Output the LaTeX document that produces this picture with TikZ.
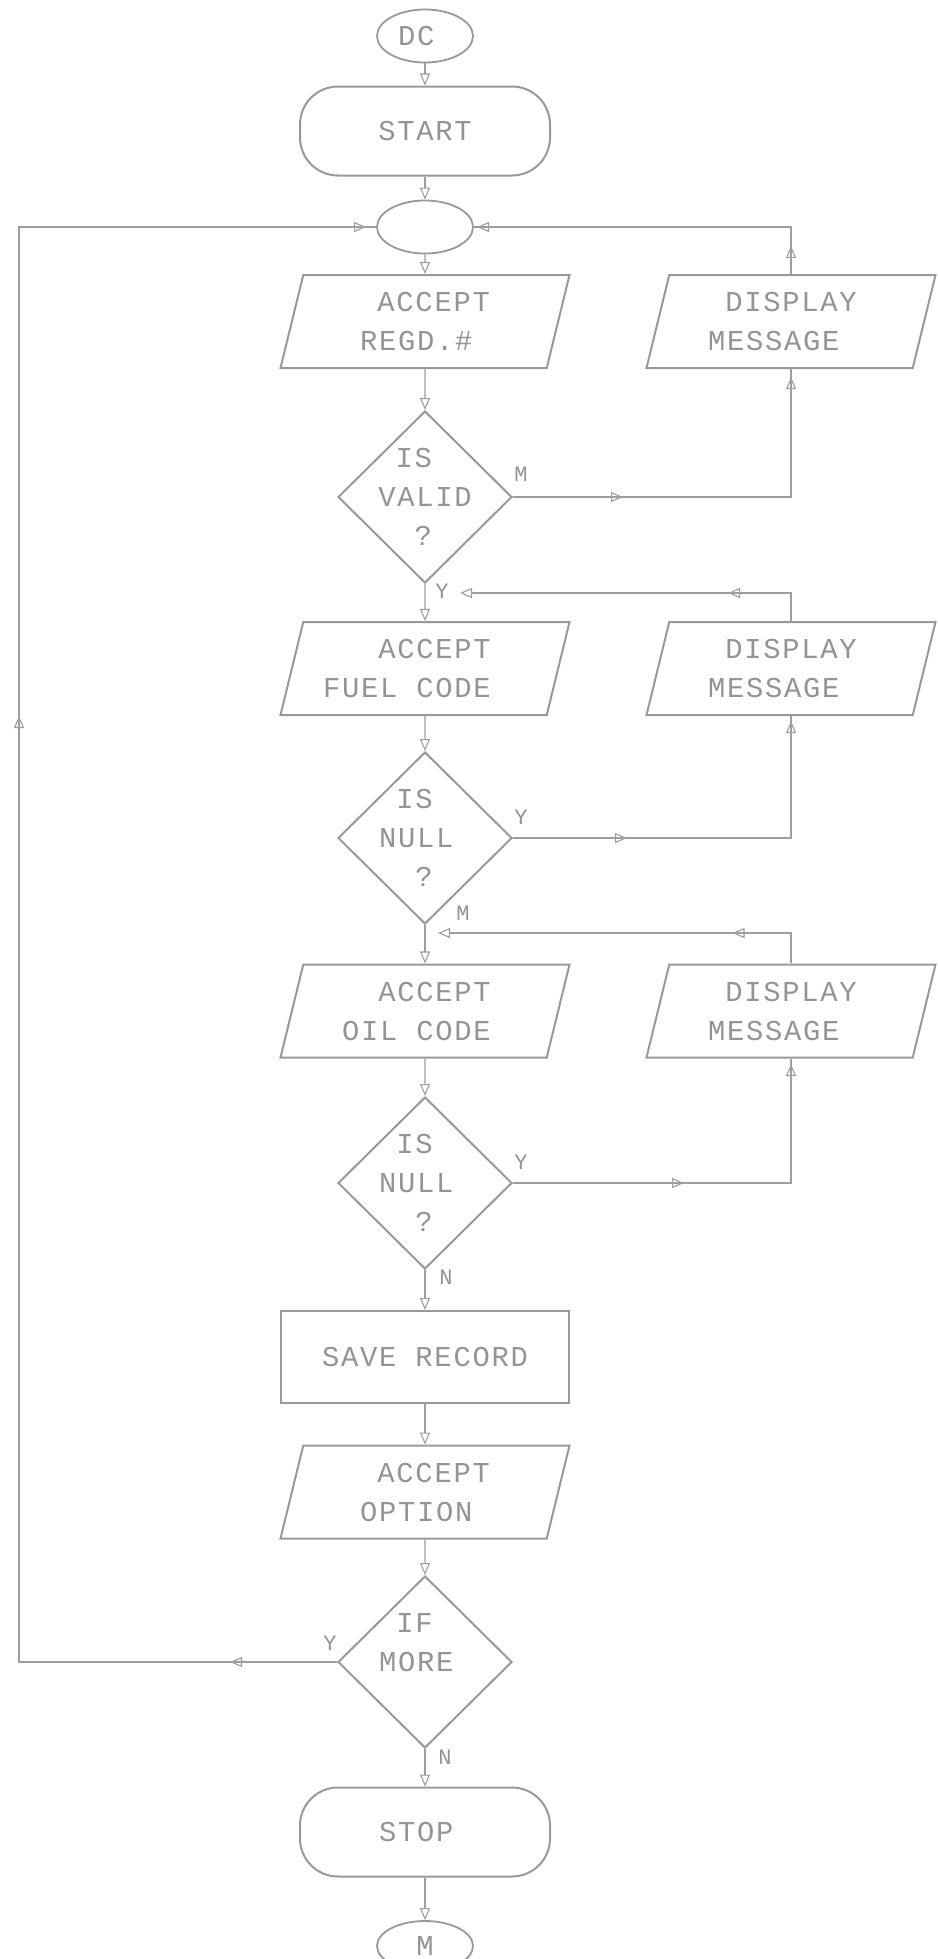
\documentclass[tikz,border=0pt]{standalone}
\usepackage{fontspec}
\newfontfamily\dotfont[LetterSpace=6]{Liberation Mono}
\usetikzlibrary{shapes.geometric,shapes.misc,arrows.meta,decorations.markings}

\begin{document}
\begin{tikzpicture}[x=1pt,y=-1pt,
  >={Triangle[open,length=12pt,width=10pt]},
  shapeline/.style={draw=black!40, line width=2pt, text=black!42,
    font={\dotfont\fontsize{28.8}{39}\selectfont}, align=left},
  io/.style={shapeline, trapezium, trapezium left angle=70, trapezium right angle=110,
    trapezium stretches body=true, minimum width=289pt, minimum height=93pt, inner sep=2pt},
  decision/.style={shapeline, diamond, minimum width=174pt, minimum height=172pt, inner sep=0pt},
  terminal/.style={shapeline, rectangle, rounded corners=38pt,
    minimum width=250pt, minimum height=89pt, inner sep=0pt},
  process/.style={shapeline, rectangle, minimum width=288pt, minimum height=92pt, inner sep=0pt},
  joint/.style={shapeline, ellipse, line width=1.8pt, minimum width=96pt, minimum height=53pt, inner sep=0pt},
  dtext/.style={text=black!42, font={\dotfont\fontsize{28.8}{39}\selectfont}, align=left, inner sep=0pt},
  lab/.style={text=black!42, font={\dotfont\fontsize{22}{26}\selectfont}, inner sep=0pt},
  conn/.style={draw, color=black!38, line width=1.1pt},
  arrowat/.style={postaction={decorate, decoration={markings, mark=at position #1 with {\arrow{>}}}}}
]
\fill[white] (0,0) rectangle (937,1959);
\useasboundingbox (0,0) rectangle (937,1959);

% main column
\node[joint]    (dc)    at (425,36)   {DC\hphantom{X}};
\node[terminal] (start) at (425,131)  {START};
\node[joint]    (circ)  at (425,227)  {};
\node[io]       (acc1)  at (425,321.5) {\hphantom{X}ACCEPT\\REGD.\#};
\node[decision] (d1)    at (425,497)  {};
\node[dtext]    (d1t)   at (d1)       {\hphantom{X}IS\\VALID\\\hphantom{XX}?};
\node[io]       (acc2)  at (425,668.5) {\hphantom{XXX}ACCEPT\\FUEL CODE\hphantom{XX}};
\node[decision] (d2)    at (425,838)  {};
\node[dtext]    (d2t)   at (d2)       {\hphantom{X}IS\\NULL\hphantom{X}\\\hphantom{XX}?};
\node[io]       (acc3)  at (425,1011) {\hphantom{XX}ACCEPT\\OIL CODE\hphantom{X}};
\node[decision] (d3)    at (425,1183) {};
\node[dtext]    (d3t)   at (d3)       {\hphantom{X}IS\\NULL\hphantom{X}\\\hphantom{XX}?};
\node[process]  (save)  at (425,1357) {SAVE RECORD};
\node[io]       (opt)   at (425,1492) {\hphantom{X}ACCEPT\\OPTION};
\node[decision] (d4)    at (425,1662) {};
\node[dtext]    (d4t)   at (d4)       {\hphantom{X}IF\\MORE\hphantom{X}\\\hphantom{X}};
\node[terminal] (stop)  at (425,1832) {STOP\hphantom{X}};
\node[joint, minimum height=50pt] (menu) at (425,1946) {M};

% error messages on the right
\node[io] (dm1) at (791,321.5) {\hphantom{X}DISPLAY\hphantom{X}\\MESSAGE};
\node[io] (dm2) at (791,668.5) {\hphantom{X}DISPLAY\hphantom{X}\\MESSAGE};
\node[io] (dm3) at (791,1011)  {\hphantom{X}DISPLAY\hphantom{X}\\MESSAGE};

% loose ends and the loop rail
\coordinate (j1) at (460,593);
\coordinate (j2) at (438,933);
\coordinate (rail) at (19,0);

% straight flow
\draw[conn,->] (dc) -- (start);
\draw[conn,->] (start) -- (circ);
\draw[conn,->] (circ) -- (acc1);
\draw[conn,->] (acc1) -- (d1);
\draw[conn,->] (d1) -- (acc2);
\draw[conn,->] (acc2) -- (d2);
\draw[conn,->] (d2) -- (acc3);
\draw[conn,->] (acc3) -- (d3);
\draw[conn,->] (d3) -- (save);
\draw[conn,->] (save) -- (opt);
\draw[conn,->] (opt) -- (d4);
\draw[conn,->] (d4) -- (stop);
\draw[conn,->] (stop) -- (menu);

% branches to the messages and back
\draw[conn, arrowat=110pt, arrowat=398pt] (d1.east) -| (dm1.south);
\draw[conn, arrowat=28pt, arrowat=361pt] (dm1.north) |- (circ.east);
\draw[conn, arrowat=114pt, arrowat=395pt] (d2.east) -| (dm2.south);
\draw[conn, ->, arrowat=91pt] (dm2.north) |- (j1);
\draw[conn, arrowat=171pt, arrowat=397pt] (d3.east) -| (dm3.south);
\draw[conn, ->, arrowat=89pt] (dm3.north) |- (j2);

% repeat loop
\draw[conn, arrowat=107pt, arrowat=1264pt, arrowat=2100pt]
  (d4.west) -| (rail |- circ.west) -- (circ.west);

% branch labels
\node[lab] (l1) at (521,474)  {M};
\node[lab] (l2) at (442,591)  {Y};
\node[lab] (l3) at (521,817)  {Y};
\node[lab] (l4) at (463,913)  {M};
\node[lab] (l5) at (521,1162) {Y};
\node[lab] (l6) at (446,1277) {N};
\node[lab] (l7) at (330,1643) {Y};
\node[lab] (l8) at (445,1757) {N};
\end{tikzpicture}
\end{document}
